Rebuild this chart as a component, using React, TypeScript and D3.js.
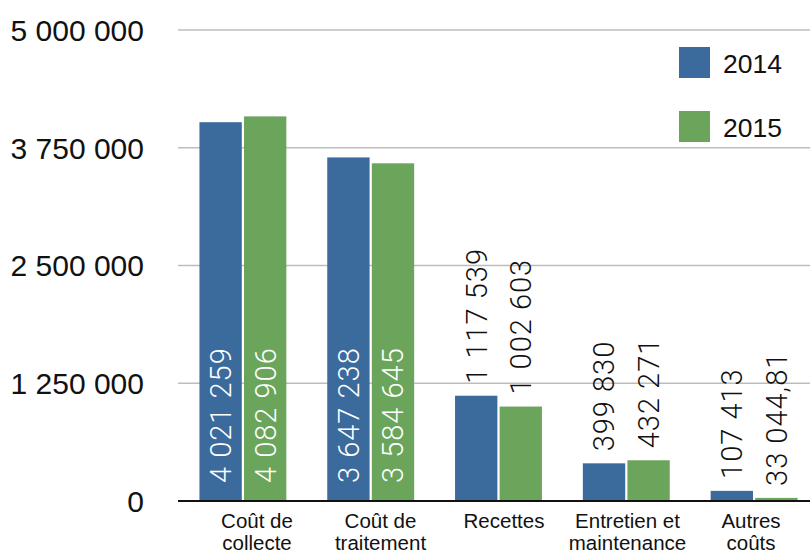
import React from "react";
import * as d3 from "d3";

const categories = ["Coût de\ncollecte", "Coût de\ntraitement", "Recettes", "Entretien et\nmaintenance", "Autres\ncoûts"];
const series = ["2014", "2015"];
const values2014 = [4021259, 3647238, 1117539, 399830, 107413];
const values2015 = [4082906, 3584645, 1002603, 432271, 33044.81];
const valueLabels2014 = ["4 021 259", "3 647 238", "1 117 539", "399 830", "107 413"];
const valueLabels2015 = ["4 082 906", "3 584 645", "1 002 603", "432 271", "33 044,81"];
const yTicks = [0, 1250000, 2500000, 3750000, 5000000];
const yTickLabels = ["0", "1 250 000", "2 500 000", "3 750 000", "5 000 000"];

const colors = ["#3b6a9c", "#6aa55b"];
const W = 810;
const H = 554;

export default function App() {
  const y = d3.scaleLinear().domain([0, 5000000]).range([501, 30]);
  const x0 = d3.scaleBand<string>().domain(categories).range([179, 818]).paddingInner(0.32).paddingOuter(0.16);
  const x1 = d3.scaleBand<string>().domain(series).range([0, x0.bandwidth()]).paddingInner(0.05);
  const xLab = d3.scalePoint<string>().domain(categories).range([257, 751]);
  const data = [values2014, values2015];
  const labels = [valueLabels2014, valueLabels2015];
  const legendY = d3.scalePoint<string>().domain(series).range([47, 111]);

  return (
    <div style={{ position: "fixed", left: 0, top: 0, width: W, height: H, background: "#fff" }}>
      <svg width={W} height={H} style={{ display: "block" }} fontFamily="'Liberation Sans', Arial, sans-serif">
        {yTicks.map((t, i) => (
          <g key={t}>
            {t !== 0 && <line x1={178} x2={W} y1={y(t)} y2={y(t)} stroke="#bdbdbd" strokeWidth={1.5} />}
            <text x={144} y={y(t)} dy="0.36em" textAnchor="end" fontSize={30} fill="#111">
              {yTickLabels[i]}
            </text>
          </g>
        ))}
        {categories.map((c, ci) => (
          <g key={c}>
            {series.map((s, si) => {
              const v = data[si][ci];
              const bx = (x0(c) as number) + (x1(s) as number);
              const bw = x1.bandwidth();
              const top = y(v);
              const h = y(0) - top;
              const inside = h > 160;
              const cx = bx + bw / 2;
              const ly = inside ? y(0) - 18 : top - 12;
              return (
                <g key={s}>
                  <rect x={bx} y={top} width={bw} height={h} fill={colors[si]} />
                  <text
                    transform={`translate(${cx},${ly}) rotate(-90)`}
                    dy="0.36em"
                    textAnchor="start"
                    fontSize={29}
                    fontFamily="Roboto, 'Liberation Sans', sans-serif"
                    fontWeight={300}
                    letterSpacing={1}
                    fill={inside ? "#fff" : "#111"}
                  >
                    {labels[si][ci]}
                  </text>
                </g>
              );
            })}
            <text x={xLab(c)} y={528} textAnchor="middle" fontSize={20.5} fill="#111">
              {c.split("\n").map((line, li) => (
                <tspan key={li} x={xLab(c)} dy={li === 0 ? 0 : 22}>
                  {line}
                </tspan>
              ))}
            </text>
          </g>
        ))}
        <line x1={178} x2={W} y1={y(0)} y2={y(0)} stroke="#111" strokeWidth={2} />
        {series.map((s, si) => (
          <g key={s}>
            <rect x={679} y={legendY(s)} width={31} height={31} fill={colors[si]} />
            <text x={723} y={(legendY(s) as number) + 15.5} dy="0.38em" fontSize={26.5} fill="#111">
              {s}
            </text>
          </g>
        ))}
      </svg>
    </div>
  );
}
